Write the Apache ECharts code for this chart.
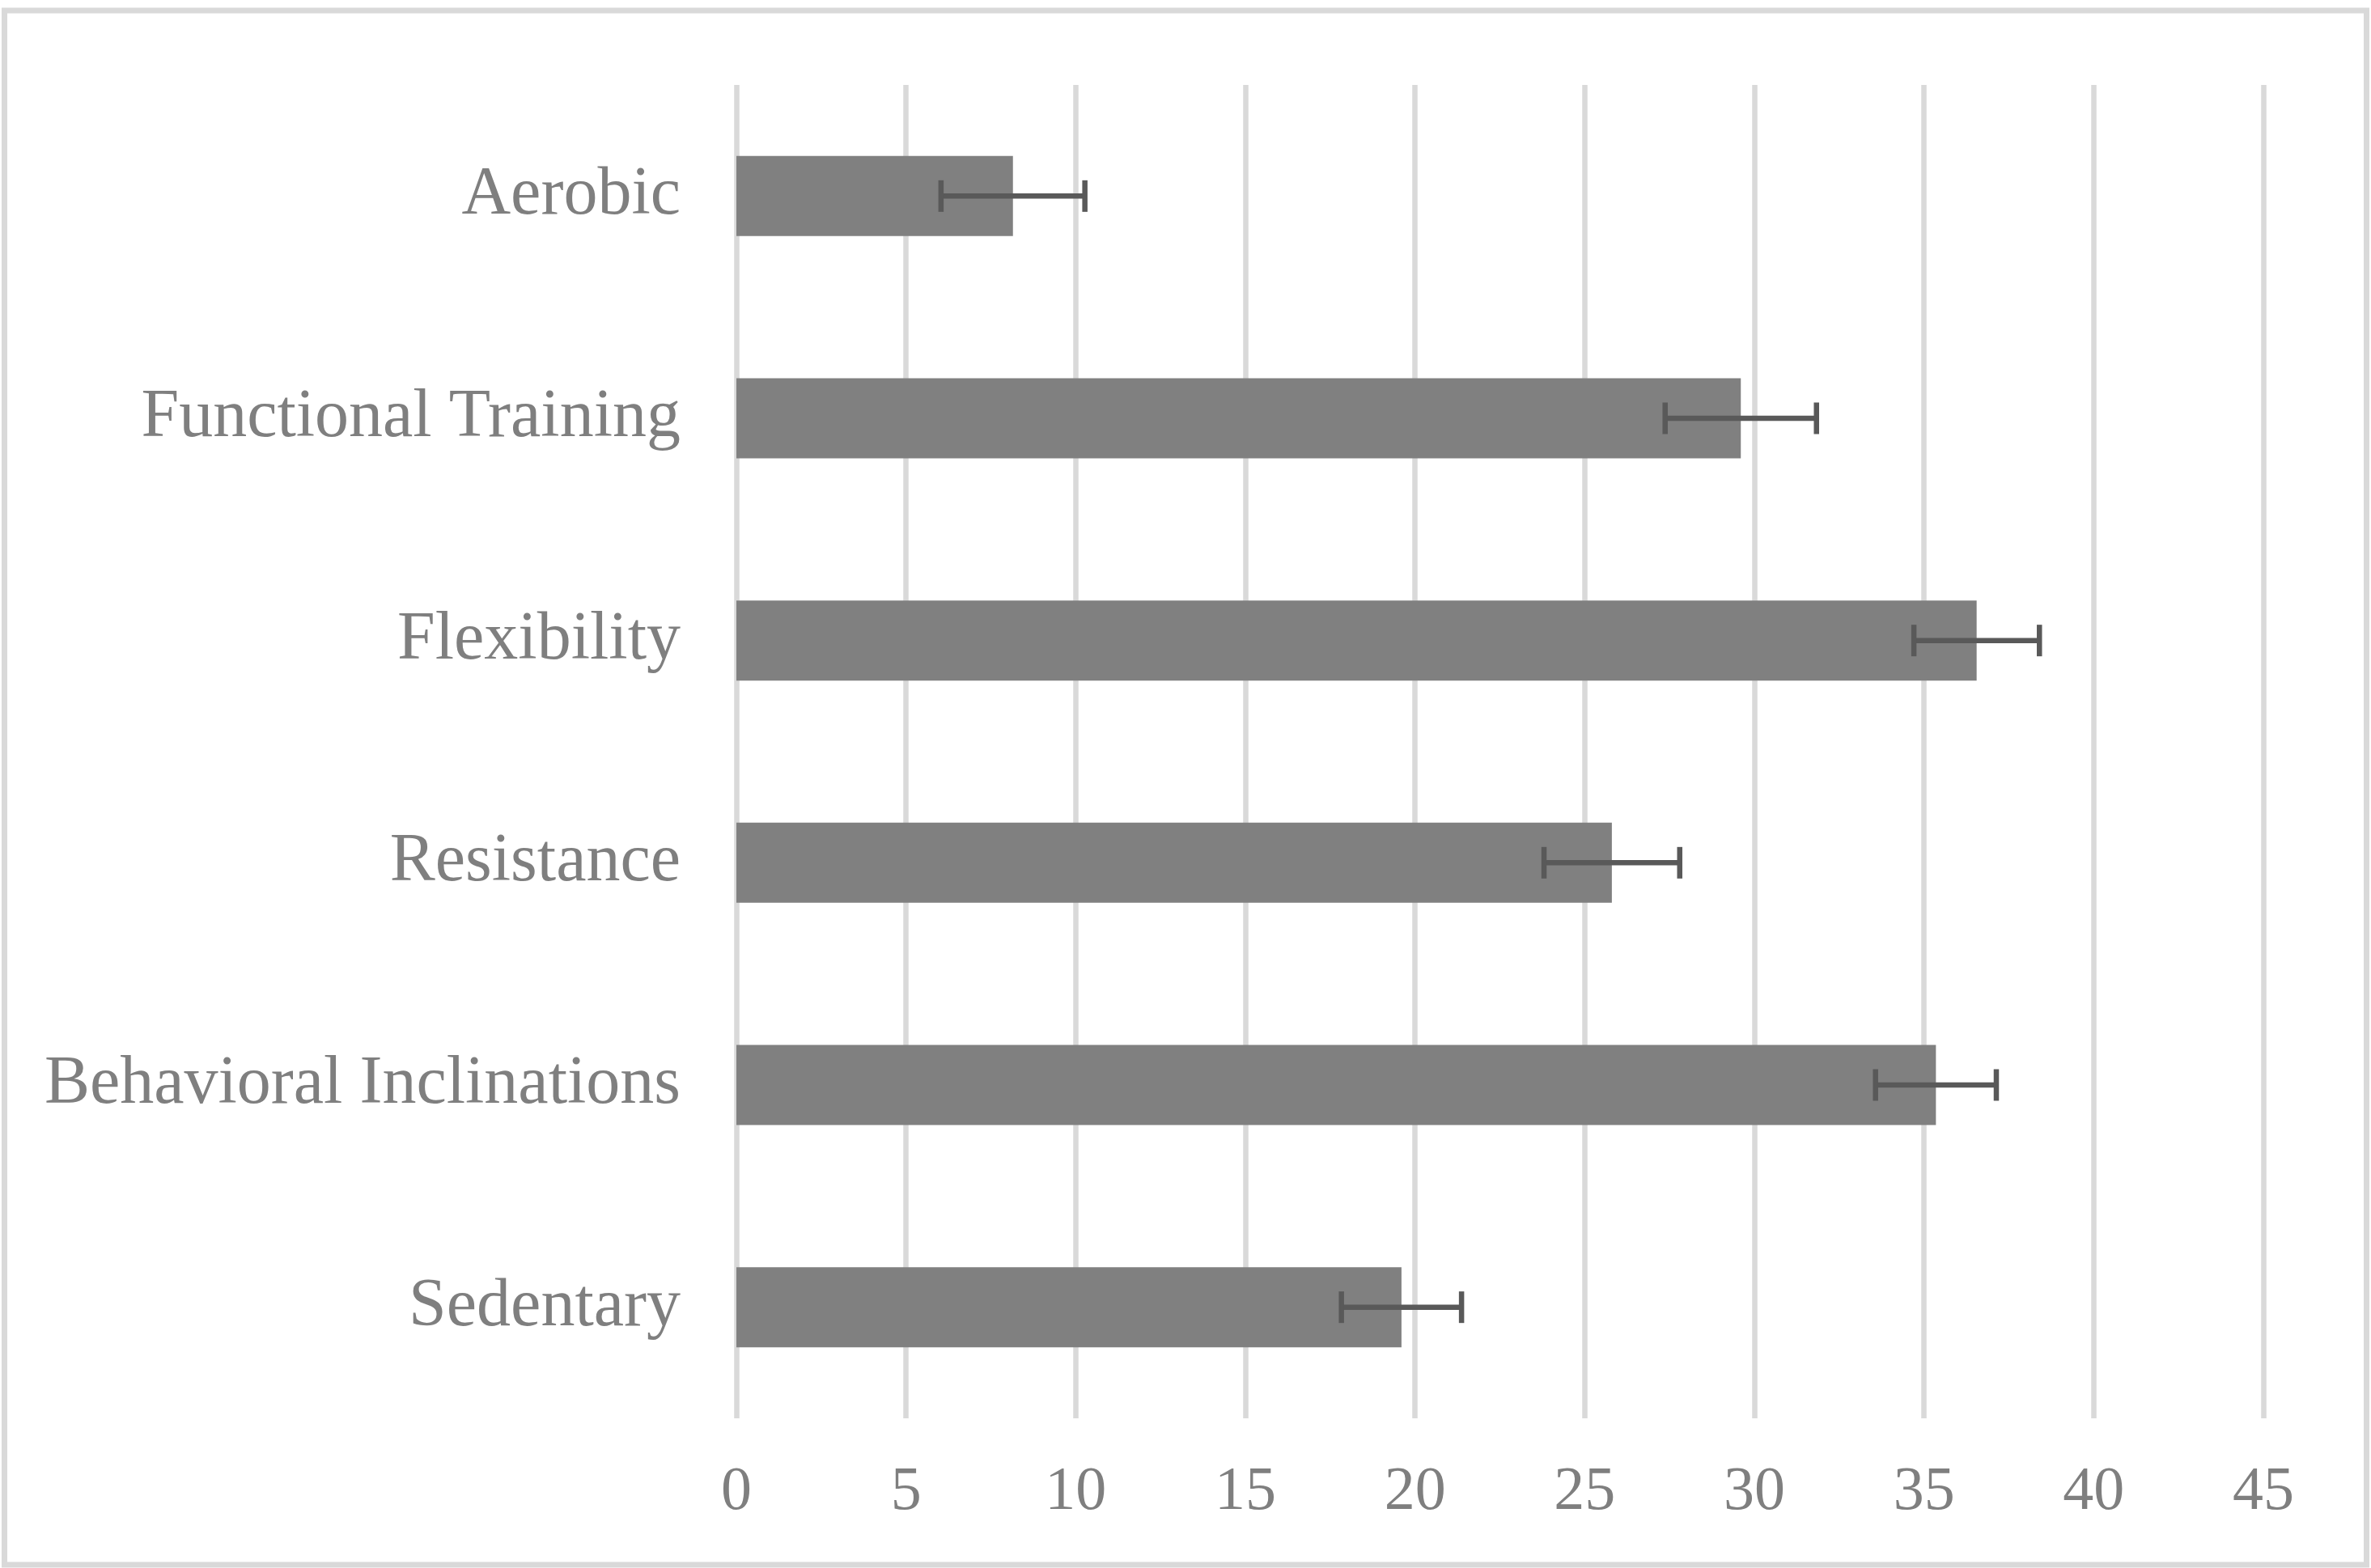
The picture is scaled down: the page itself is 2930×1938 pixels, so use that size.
<!DOCTYPE html>
<html>
<head>
<meta charset="utf-8">
<script src="https://cdn.jsdelivr.net/npm/echarts@6/dist/echarts.min.js"></script>
<style>
html,body{margin:0;padding:0;background:#fff;}
#chart{width:2930px;height:1938px;}
</style>
</head>
<body>
<div id="chart"></div>
<script>
const categories = ["Aerobic", "Functional Training", "Flexibility", "Resistance", "Behavioral Inclinations", "Sedentary"];
const means = [8.15, 29.6, 36.55, 25.8, 35.35, 19.6];
const errors = [2.12, 2.23, 1.85, 2.0, 1.78, 1.77];
const xTicks = [0, 5, 10, 15, 20, 25, 30, 35, 40, 45];

const errData = categories.map((c, i) => [i, means[i] - errors[i], means[i] + errors[i]]);

const chart = echarts.init(document.getElementById('chart'), null, {renderer: 'canvas'});
const labelFont = '"Liberation Serif", "Times New Roman", serif';

chart.setOption({
  animation: false,
  backgroundColor: '#ffffff',
  graphic: [{
    type: 'rect',
    shape: {x: 5.5, y: 13, width: 2919, height: 1921},
    style: {fill: 'none', stroke: '#d9d9d9', lineWidth: 7},
    z: -1
  }],
  grid: {left: 910, top: 105, width: 1887, height: 1648, containLabel: false},
  xAxis: {
    type: 'value',
    min: xTicks[0],
    max: xTicks[xTicks.length - 1],
    interval: 5,
    axisLine: {show: false},
    axisTick: {show: false},
    splitLine: {show: true, lineStyle: {color: '#d9d9d9', width: 6.5}},
    axisLabel: {
      color: '#7f7f7f', fontSize: 76, fontFamily: labelFont, margin: 54
    }
  },
  yAxis: {
    type: 'category',
    data: categories,
    inverse: true,
    axisLine: {show: false},
    axisTick: {show: false},
    splitLine: {show: false},
    axisLabel: {
      color: '#7f7f7f', fontSize: 84, fontFamily: labelFont, margin: 69,
      padding: [24, 0, 0, 0]
    }
  },
  series: [{
    type: 'bar',
    data: means,
    barWidth: 99,
    itemStyle: {color: '#808080'},
    z: 2
  }, {
    type: 'custom',
    data: errData,
    z: 3,
    renderItem: function (params, api) {
      const ci = api.value(0);
      const lo = api.coord([api.value(1), ci]);
      const hi = api.coord([api.value(2), ci]);
      const y = lo[1];
      const capH = 39;
      const st = {stroke: '#595959', lineWidth: 6.5};
      return {
        type: 'group',
        children: [
          {type: 'line', shape: {x1: lo[0], y1: y, x2: hi[0], y2: y}, style: st},
          {type: 'line', shape: {x1: lo[0], y1: y - capH / 2, x2: lo[0], y2: y + capH / 2}, style: st},
          {type: 'line', shape: {x1: hi[0], y1: y - capH / 2, x2: hi[0], y2: y + capH / 2}, style: st}
        ]
      };
    }
  }]
});
</script>
</body>
</html>
